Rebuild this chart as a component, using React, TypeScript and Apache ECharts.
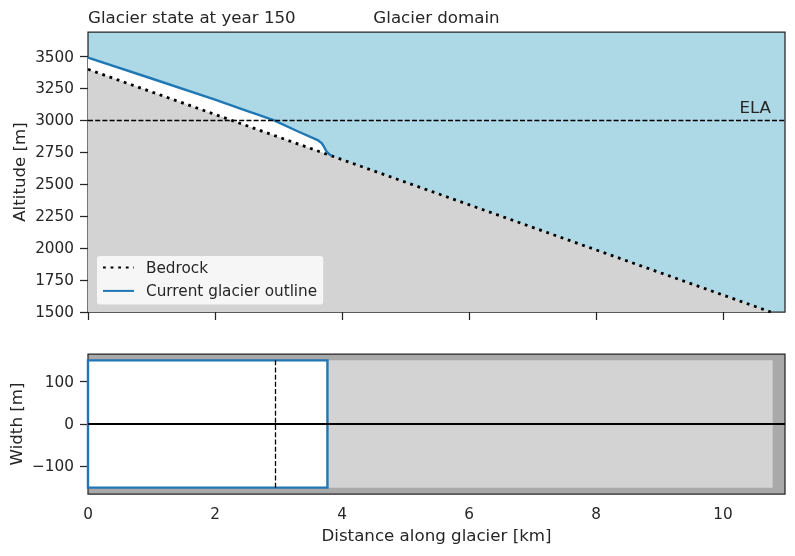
import React, { useEffect, useRef } from "react";
import * as echarts from "echarts";

// ---- data (km, m) ----
const X_MAX = 10.975;
const bedrockX = [0, 10.75];
const bedrockAlt = [3400, 1500];
const surfaceX = [0, 1.0, 2.0, 2.5, 2.93, 3.3, 3.625, 3.68, 3.72, 3.76, 3.8, 3.84];
const surfaceAlt = [3492, 3328, 3162, 3075, 3000, 2915, 2843, 2822, 2790, 2753, 2735, 2722];
const ELA = 3000;
const altTicks = [1500, 1750, 2000, 2250, 2500, 2750, 3000, 3250, 3500];
const distTicks = [0, 2, 4, 6, 8, 10];
const widthTicks = [-100, 0, 100];
const domainLength = 10.78;
const domainHalfWidth = 150;
const glacierLength = 3.77;
const elaPosition = 2.95;

const FONT = "DejaVu Sans";
const TXT = "#262626";
const BLUE = "#1f77b4";
const TICK_FS = 15.28;
const LABEL_FS = 16.67;

const pairs = (xs: number[], ys: number[]) => xs.map((x, i) => [x, ys[i]]);

export default function App() {
  const ref = useRef<HTMLDivElement>(null);
  useEffect(() => {
    if (!ref.current) return;
    const chart = echarts.init(ref.current, undefined, { renderer: "svg" });
    const axisCommon = {
      axisLine: { show: false },
      splitLine: { show: false },
      axisTick: { show: true, length: 8, lineStyle: { color: TXT, width: 1.25 } },
      axisLabel: { color: TXT, fontSize: TICK_FS, fontFamily: FONT, formatter: (v: number) => (v < 0 ? "\u2212" + Math.abs(v) : String(v)) },
      nameTextStyle: { color: TXT, fontSize: LABEL_FS, fontFamily: FONT },
      nameMoveOverlap: false,
    };
    const option: any = {
      animation: false,
      textStyle: { fontFamily: FONT },
      title: [
        { text: "Glacier state at year 150", left: 88, top: 9, padding: 0, textStyle: { color: TXT, fontSize: LABEL_FS, fontWeight: "normal", fontFamily: FONT } },
        { text: "Glacier domain", left: 436.5, textAlign: "center", top: 9, padding: 0, textStyle: { color: TXT, fontSize: LABEL_FS, fontWeight: "normal", fontFamily: FONT } },
      ],
      legend: {
        data: ["Bedrock", "Current glacier outline"],
        orient: "vertical",
        left: 97,
        top: 256,
        itemWidth: 31,
        itemHeight: 15,
        itemGap: 8.4,
        padding: [4, 6, 6, 5],
        backgroundColor: "rgba(255,255,255,0.8)",
        borderWidth: 0,
        borderRadius: 3,
        itemStyle: { opacity: 0 },
        textStyle: { color: TXT, fontSize: TICK_FS, fontFamily: FONT, padding: [0, 0, 0, 7] },
      },
      grid: [
        { left: 88, top: 32, width: 697, height: 280, show: true, outerBoundsMode: "none", containLabel: false, backgroundColor: "#add8e6", borderColor: TXT, borderWidth: 1.25 },
        { left: 88, top: 354, width: 697, height: 140, show: true, outerBoundsMode: "none", containLabel: false, backgroundColor: "#a9a9a9", borderColor: TXT, borderWidth: 1.25 },
      ],
      xAxis: [
        {
          ...axisCommon, type: "value", gridIndex: 0, min: 0, max: X_MAX,
          axisTick: { ...axisCommon.axisTick, customValues: distTicks },
          axisLabel: { show: false },
        },
        {
          ...axisCommon, type: "value", gridIndex: 1, min: 0, max: X_MAX,
          axisTick: { ...axisCommon.axisTick, customValues: distTicks },
          axisLabel: { ...axisCommon.axisLabel, customValues: distTicks, margin: 12 },
          name: "Distance along glacier [km]", nameLocation: "middle", nameGap: 32.5,
        },
      ],
      yAxis: [
        {
          ...axisCommon, type: "value", gridIndex: 0, min: 1500, max: 3692,
          axisTick: { ...axisCommon.axisTick, customValues: altTicks },
          axisLabel: { ...axisCommon.axisLabel, customValues: altTicks, margin: 14 },
          name: "Altitude [m]", nameLocation: "middle", nameGap: 60,
        },
        {
          ...axisCommon, type: "value", gridIndex: 1, min: -165, max: 165,
          axisTick: { ...axisCommon.axisTick, customValues: widthTicks },
          axisLabel: { ...axisCommon.axisLabel, customValues: widthTicks, margin: 14 },
          name: "Width [m]", nameLocation: "middle", nameGap: 63,
        },
      ],
      series: [
        {
          name: "ice", type: "line", xAxisIndex: 0, yAxisIndex: 0, symbol: "none", z: 1,
          data: pairs(surfaceX, surfaceAlt),
          lineStyle: { width: 0 }, areaStyle: { color: "#ffffff", opacity: 1, origin: "start" },
        },
        {
          name: "bedrockFill", type: "line", xAxisIndex: 0, yAxisIndex: 0, symbol: "none", z: 2,
          data: pairs(bedrockX, bedrockAlt),
          lineStyle: { width: 0 }, areaStyle: { color: "#d3d3d3", opacity: 1, origin: "start" },
          markLine: {
            silent: true, symbol: "none",
            lineStyle: { color: "#000", width: 1.3, type: [5, 2.2] },
            label: { show: true, position: "insideEndTop", formatter: "ELA", color: TXT, fontSize: LABEL_FS, fontFamily: FONT, distance: [14, 4] },
            data: [{ yAxis: ELA }],
          },
        },
        {
          name: "Bedrock", type: "line", xAxisIndex: 0, yAxisIndex: 0, symbol: "none", z: 3,
          data: pairs(bedrockX, bedrockAlt),
          itemStyle: { color: "#000" },
          lineStyle: { color: "#000", width: 2.8, type: [2.8, 4.8] },
        },
        {
          name: "Current glacier outline", type: "line", xAxisIndex: 0, yAxisIndex: 0, symbol: "none", z: 4,
          data: pairs(surfaceX, surfaceAlt),
          itemStyle: { color: BLUE },
          lineStyle: { color: BLUE, width: 2.4 },
        },
        {
          name: "domain", type: "line", xAxisIndex: 1, yAxisIndex: 1, symbol: "none", z: 1,
          data: [],
          markArea: {
            silent: true,
            data: [
              [{ coord: [0, -domainHalfWidth], itemStyle: { color: "#d3d3d3" } }, { coord: [domainLength, domainHalfWidth] }],
              [{ coord: [0, -domainHalfWidth], itemStyle: { color: "#ffffff", borderColor: BLUE, borderWidth: 2.4 } }, { coord: [glacierLength, domainHalfWidth] }],
            ],
          },
        },
        {
          name: "lines", type: "line", xAxisIndex: 1, yAxisIndex: 1, symbol: "none", z: 5,
          data: [],
          markLine: {
            silent: true, symbol: "none", label: { show: false },
            data: [
              { yAxis: 0, lineStyle: { color: "#000", width: 2, type: "solid" } },
              [{ coord: [elaPosition, -domainHalfWidth], lineStyle: { color: "#000", width: 1.3, type: [5, 2.2] } }, { coord: [elaPosition, domainHalfWidth] }],
            ],
          },
        },
      ],
    };
    chart.setOption(option);
    return () => chart.dispose();
  }, []);
  return <div ref={ref} style={{ position: "fixed", left: 0, top: 0, width: 795, height: 556 }} />;
}
